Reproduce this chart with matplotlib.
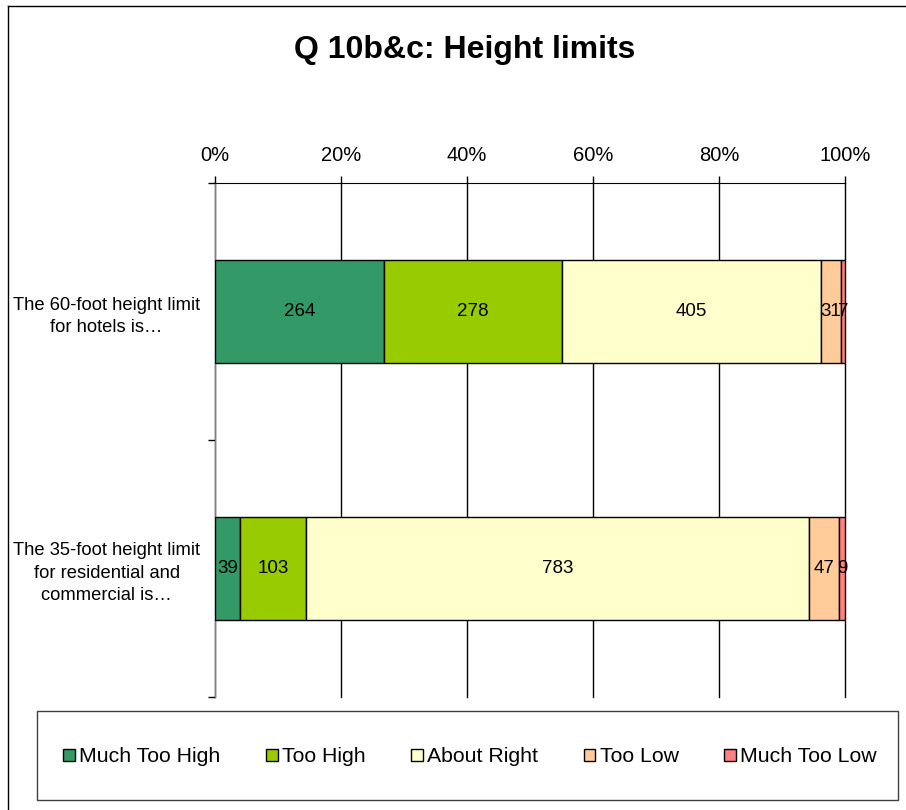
import numpy as np
import matplotlib
matplotlib.use('Agg')
import matplotlib.pyplot as plt
from matplotlib.lines import Line2D
from matplotlib.patches import Rectangle

plt.rcParams['font.family'] = ['Liberation Sans', 'DejaVu Sans']

# data
categories = ["The 60-foot height limit\nfor hotels is…",
              "The 35-foot height limit\nfor residential and\ncommercial is…"]
responses = ["Much Too High", "Too High", "About Right", "Too Low", "Much Too Low"]
much_too_high = [264, 39]
too_high      = [278, 103]
about_right   = [405, 783]
too_low       = [31, 47]
much_too_low  = [7, 9]
pct_ticks = [0, 20, 40, 60, 80, 100]
colors = ["#339966", "#99CC00", "#FFFFCC", "#FFCC99", "#FF8080"]

counts = np.array([much_too_high, too_high, about_right, too_low, much_too_low], dtype=float)
totals = counts.sum(axis=0)
pcts = counts / totals * 100

fig = plt.figure(figsize=(9.06, 8.10), dpi=100)
ax = fig.add_axes([215/906, 1-697/810, 630/906, 514/810])

y = np.arange(len(categories))
left = np.zeros(len(categories))
for i, name in enumerate(responses):
    bars = ax.barh(y, pcts[i], left=left, height=0.4, color=colors[i],
                   edgecolor='black', linewidth=1, label=name, zorder=3)
    for b, c in zip(bars, counts[i]):
        ax.text(b.get_x() + b.get_width()/2, b.get_y() + b.get_height()/2,
                f"{int(c)}", ha='center', va='center', fontsize=13.5, zorder=4)
    left += pcts[i]

ax.set_xlim(0, 100)
ax.set_ylim(1.5, -0.5)
ax.xaxis.tick_top()
ax.set_xticks(pct_ticks)
ax.set_xticklabels([f"{t}%" for t in pct_ticks], fontsize=14.5)
ax.tick_params(axis='x', direction='out', length=5, width=1, pad=8, color='black')
ax.grid(axis='x', color='black', linewidth=1, zorder=0)
for gl in ax.get_xgridlines():
    gl.set_clip_on(False)

ax.set_yticks(y)
ax.set_yticklabels(categories, fontsize=13.2, ha='center', linespacing=1.4)
ax.tick_params(axis='y', which='major', length=0, pad=78)
ax.set_yticks([-0.5, 0.5, 1.5], minor=True)
ax.tick_params(axis='y', which='minor', length=5, width=1, color='black', direction='out')

for s in ['right', 'bottom']:
    ax.spines[s].set_visible(False)
ax.spines['top'].set_color('black')
ax.spines['left'].set_color('#808080')

fig.text(465/906, 1-50/810, "Q 10b&c: Height limits", fontsize=23, fontweight='bold',
         ha='center', va='center')

# legend box drawn separately, entries centred inside it
fig.add_artist(Rectangle((37/906, 1-800/810), 861/906, 89/810, transform=fig.transFigure,
                         facecolor='white', edgecolor='#404040', linewidth=1))
leg = fig.legend(loc='center', bbox_to_anchor=(470/906, 1-757/810), ncol=5,
                 fontsize=15.3, frameon=False,
                 handlelength=0.55, handleheight=0.55, handletextpad=0.2,
                 columnspacing=2.15, borderpad=0, borderaxespad=0)

# outer chart border
fig.add_artist(Line2D([8/906, 8/906], [0, 1-6/810], color='black', lw=1, transform=fig.transFigure))
fig.add_artist(Line2D([8/906, 1], [1-6/810, 1-6/810], color='black', lw=1, transform=fig.transFigure))

fig.savefig("out.png", dpi=100)
